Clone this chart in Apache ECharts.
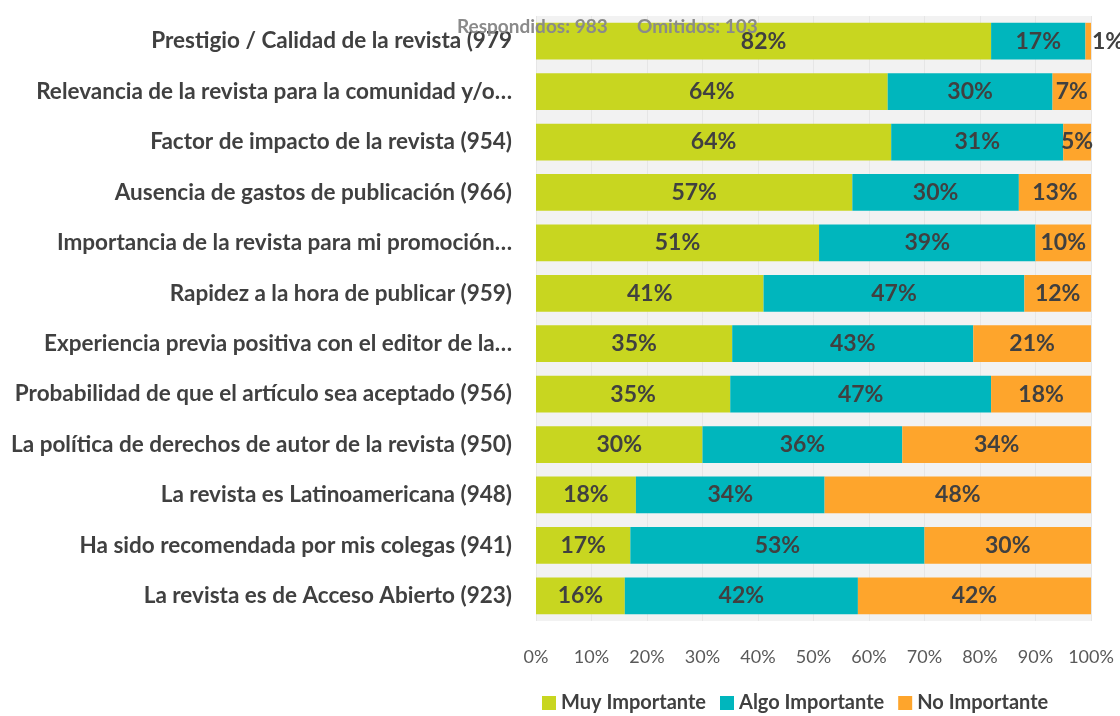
<!DOCTYPE html>
<html>
<head>
<meta charset="utf-8">
<script src="https://cdn.jsdelivr.net/npm/echarts@6/dist/echarts.min.js"></script>
<style>
  html, body { margin: 0; padding: 0; background: #fff; }
  #chart { width: 1120px; height: 716px; }
</style>
</head>
<body>
<div id="chart"></div>
<script>
// categorias, de arriba hacia abajo
var categories = [
  'Prestigio / Calidad de la revista (979',
  'Relevancia de la revista para la comunidad y/o…',
  'Factor de impacto de la revista (954)',
  'Ausencia de gastos de publicación (966)',
  'Importancia de la revista para mi promoción…',
  'Rapidez a la hora de publicar (959)',
  'Experiencia previa positiva con el editor de la…',
  'Probabilidad de que el artículo sea aceptado (956)',
  'La política de derechos de autor de la revista (950)',
  'La revista es Latinoamericana (948)',
  'Ha sido recomendada por mis colegas (941)',
  'La revista es de Acceso Abierto (923)'
];
var muy  = [82, 64, 64, 57, 51, 41, 35, 35, 30, 18, 17, 16];
var algo = [17, 30, 31, 30, 39, 47, 43, 47, 36, 34, 53, 42];
var no   = [1, 7, 5, 13, 10, 12, 21, 18, 34, 48, 30, 42];
var seriesNames = ['Muy Importante', 'Algo Importante', 'No Importante'];
var colors = ['#c8d620', '#00b6bd', '#fea52c'];

var chart = echarts.init(document.getElementById('chart'));
var font = 'Lato, "Open Sans", sans-serif';

// barras al 100%: cada fila se escala para sumar 100
function build(arr) {
  return arr.map(function (v, i) {
    var total = muy[i] + algo[i] + no[i];
    var item = { value: v / total * 100, raw: v };
    if (v < 3) item.label = { position: 'right', distance: 1 };
    return item;
  });
}
var all = [muy, algo, no];
var titleStyle = { fontSize: 19, fontWeight: 'bold', color: '#8a8a8a', fontFamily: font };

chart.setOption({
  animation: false,
  color: colors,
  textStyle: { fontFamily: font },
  title: [
    { text: 'Respondidos: 983', left: 452, top: 12, textStyle: titleStyle },
    { text: 'Omitidos: 103', left: 632, top: 12, textStyle: titleStyle }
  ],
  legend: {
    bottom: -2, left: 537,
    itemWidth: 14, itemHeight: 14, itemGap: 14,
    icon: 'rect',
    textStyle: { fontSize: 20, fontWeight: 'bold', color: '#404040', fontFamily: font },
    data: seriesNames
  },
  grid: {
    left: 536, right: 29, top: 16, bottom: 95,
    show: true, backgroundColor: '#f2f2f2', borderWidth: 0
  },
  xAxis: {
    type: 'value', min: 0, max: 100, interval: 10,
    axisLine: { show: false }, axisTick: { show: false },
    splitLine: { show: true, lineStyle: { color: '#e6e6e6', width: 1 } },
    axisLabel: { formatter: '{value}%', fontSize: 18, color: '#595959', margin: 27, fontFamily: font }
  },
  yAxis: {
    type: 'category', inverse: true, data: categories,
    axisLine: { show: false }, axisTick: { show: false },
    axisLabel: { fontSize: 22.5, fontWeight: 'bold', color: '#404040', margin: 24, fontFamily: font }
  },
  series: seriesNames.map(function (name, k) {
    return {
      name: name, type: 'bar', stack: 'total',
      barCategoryGap: '27%',
      data: build(all[k]),
      label: {
        show: true, position: 'inside',
        fontSize: 23, fontWeight: 'bold', color: '#404040', fontFamily: font,
        formatter: function (p) { return p.data.raw + '%'; }
      }
    };
  })
});
</script>
</body>
</html>
